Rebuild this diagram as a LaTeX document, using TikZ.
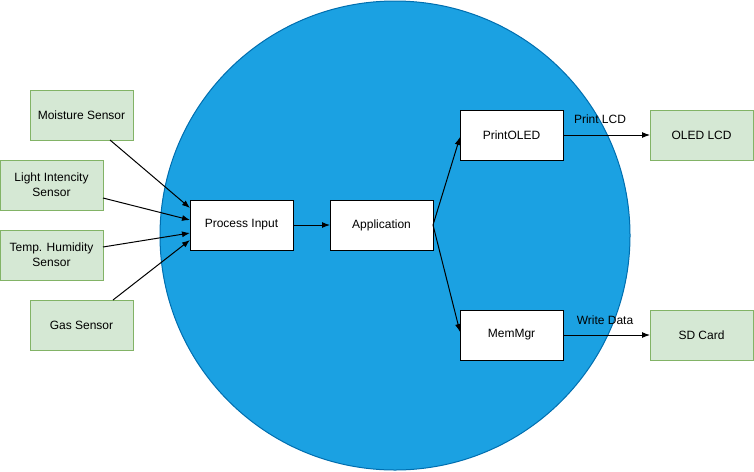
\documentclass[tikz,border=0pt]{standalone}
\usepackage{fontspec}
\setmainfont{Liberation Sans}
\usetikzlibrary{shapes.geometric, arrows.meta}
\definecolor{cblue}{HTML}{1BA1E2}
\definecolor{cblueline}{HTML}{006EAF}
\definecolor{sgreen}{HTML}{D5E8D4}
\definecolor{sgreenline}{HTML}{82B366}
\begin{document}
\begin{tikzpicture}[x=1pt, y=-1pt]
\tikzset{ >={Latex[length=8pt,width=6pt]}, inner sep=0pt, outer sep=0pt,
  font=\fontsize{12}{15}\selectfont,
  sensor/.style={draw=sgreenline, fill=sgreen, line width=1pt, minimum width=103pt, minimum height=50pt, align=center},
  block/.style={draw=black, fill=white, line width=1pt, minimum width=103pt, minimum height=50pt, align=center},
  wire/.style={->, line width=1pt},
}

%\draw [lightgray, dashed](0,0) grid (754,471);
\useasboundingbox (0,0) rectangle (754,471);

\node [ellipse, draw=cblueline, fill=cblue, line width=1pt, minimum width=470pt, minimum height=469pt] (C) at (395,235.5) {};

\node [sensor] (M) at (81.5,115) {Moisture Sensor};
\node [sensor] (L) at (51.5,185) {Light Intencity\\Sensor};
\node [sensor] (T) at (51.5,255) {Temp. Humidity\\Sensor};
\node [sensor] (G) at (81.5,325) {Gas Sensor};

\node [block] (P) at (241.5,225) {Process Input};
\node [block] (A) at (381.5,225) {Application};
\node [block] (O) at (511.5,135) {PrintOLED};
\node [block] (W) at (511.5,335) {MemMgr};

\node [sensor] (LCD) at (701.5,135) {OLED LCD};
\node [sensor] (SD)  at (701.5,335) {SD Card};

\draw [wire] ([xshift=28.5pt]M.south) -- ([yshift=17pt]P.west);
\draw [wire] ([yshift=-13pt]L.east)   -- ([yshift=5pt]P.west);
\draw [wire] ([yshift=8pt]T.east)     -- ([yshift=-8pt]P.west);
\draw [wire] ([xshift=31.5pt]G.north) -- ([yshift=-15pt]P.west);

\draw [wire] (P) -- (A);
\draw [wire] (A.east) -- ([yshift=-2pt]O.west);
\draw [wire] (A.east) -- ([yshift=3pt]W.west);

\draw [wire] (O) -- (LCD);
\draw [wire] (W) -- (SD);

\node (pl) at (600,119) {Print LCD};
\node (wd) at (605,320) {Write Data};
\end{tikzpicture}
\end{document}
